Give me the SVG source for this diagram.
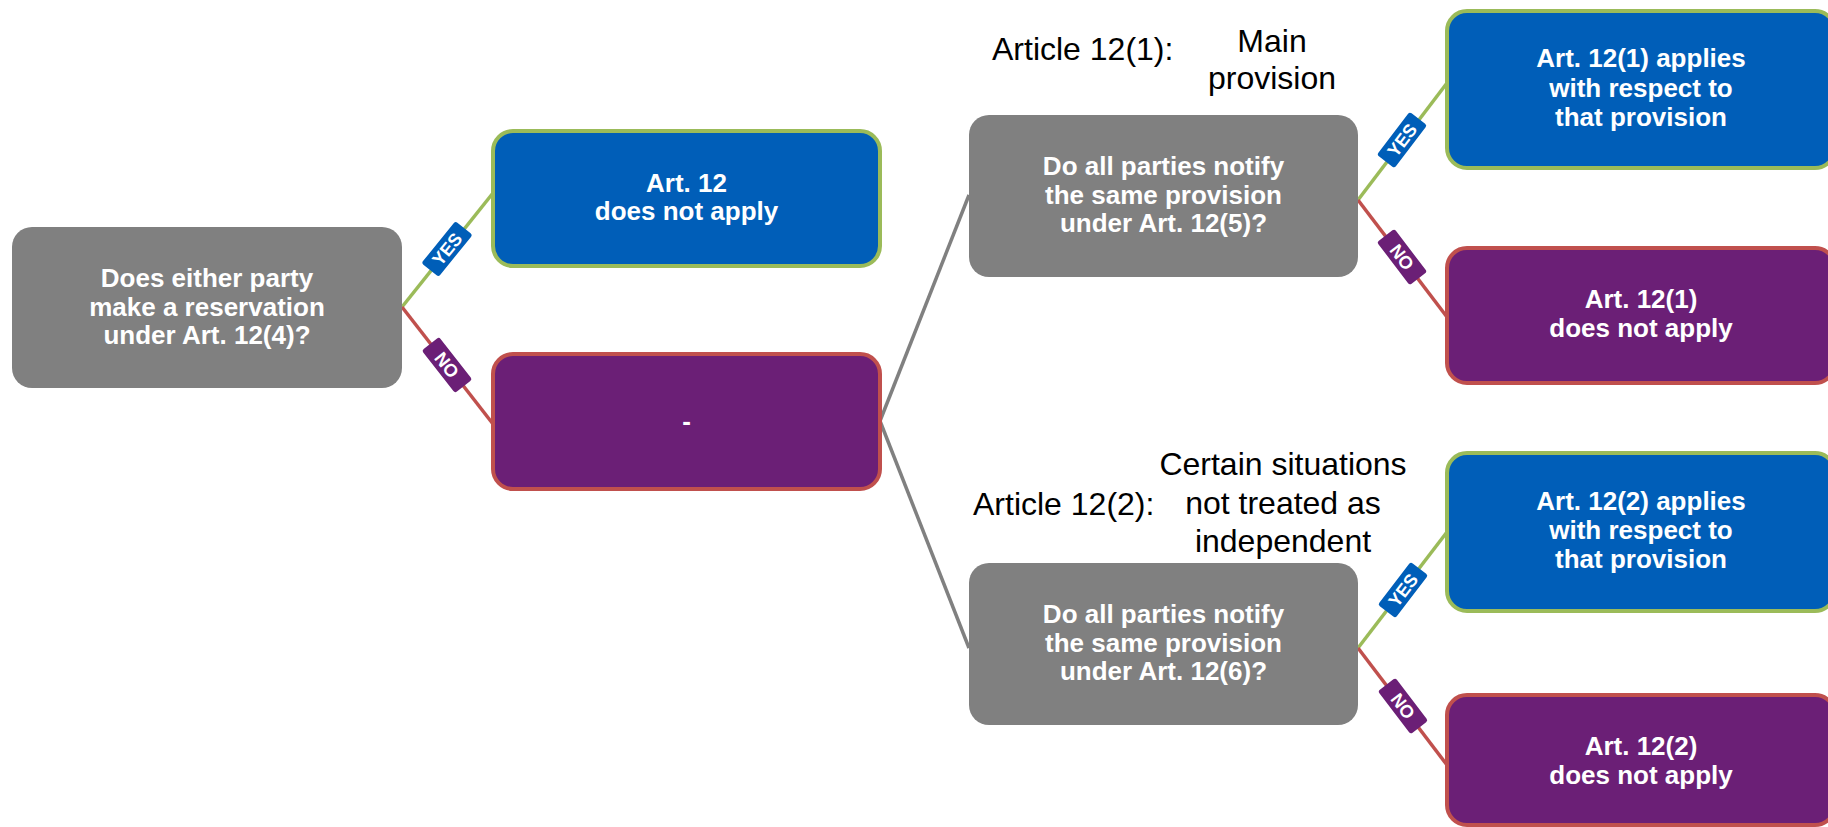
<svg xmlns="http://www.w3.org/2000/svg" width="1828" height="827" viewBox="0 0 1828 827">
<style>
.q{fill:#808080}
.yes{fill:#005EB8;stroke:#9BBB59;stroke-width:4}
.no{fill:#6B1F76;stroke:#C0504D;stroke-width:4}
.t{font-family:"Liberation Sans",Arial,sans-serif;font-weight:bold;font-size:26px;fill:#fff;text-anchor:middle}
.n{font-family:"Liberation Sans",Arial,sans-serif;font-size:32px;fill:#000}
.cy{stroke:#9BBB59;stroke-width:3.5;fill:none}
.cn{stroke:#C0504D;stroke-width:3.5;fill:none}
.cg{stroke:#808080;stroke-width:3.5;fill:none}
.by{fill:#005EB8}
.bn{fill:#6B1F76}
.bt{font-family:"Liberation Sans",Arial,sans-serif;font-weight:bold;font-size:18px;fill:#fff;text-anchor:middle}
</style>
<rect width="1828" height="827" fill="#fff"/>
<g id="connectors">
<line class="cy" x1="402" y1="307" x2="493" y2="193"/>
<line class="cn" x1="402" y1="307" x2="493" y2="424"/>
<line class="cg" x1="880" y1="421" x2="969" y2="195"/>
<line class="cg" x1="880" y1="421" x2="969" y2="648"/>
<line class="cy" x1="1358" y1="200" x2="1447" y2="83"/>
<line class="cn" x1="1358" y1="200" x2="1447" y2="317"/>
<line class="cy" x1="1358" y1="648" x2="1447" y2="532"/>
<line class="cn" x1="1358" y1="648" x2="1447" y2="765"/>
<g transform="translate(447,249) rotate(-51)"><rect class="by" x="-27" y="-11" width="54" height="22" rx="2.5"/><text class="bt" y="6.5">YES</text></g>
<g transform="translate(447,365) rotate(52)"><rect class="bn" x="-27" y="-11" width="54" height="22" rx="2.5"/><text class="bt" y="6.5">NO</text></g>
<g transform="translate(1402,140) rotate(-52.7)"><rect class="by" x="-27" y="-11" width="54" height="22" rx="2.5"/><text class="bt" y="6.5">YES</text></g>
<g transform="translate(1402,257) rotate(52.7)"><rect class="bn" x="-27" y="-11" width="54" height="22" rx="2.5"/><text class="bt" y="6.5">NO</text></g>
<g transform="translate(1403,590) rotate(-52.5)"><rect class="by" x="-27" y="-11" width="54" height="22" rx="2.5"/><text class="bt" y="6.5">YES</text></g>
<g transform="translate(1403,706) rotate(52.7)"><rect class="bn" x="-27" y="-11" width="54" height="22" rx="2.5"/><text class="bt" y="6.5">NO</text></g>
</g>
<g id="q1">
<rect class="q" x="12" y="227" width="390" height="161" rx="20"/>
<text class="t"><tspan x="207" y="287">Does either party</tspan><tspan x="207" y="315.5">make a reservation</tspan><tspan x="207" y="344">under Art. 12(4)?</tspan></text>
</g>
<g id="r1">
<rect class="yes" x="493" y="131" width="387" height="135" rx="20"/>
<text class="t"><tspan x="686.5" y="192">Art. 12</tspan><tspan x="686.5" y="220">does not apply</tspan></text>
</g>
<g id="r2">
<rect class="no" x="493" y="354" width="387" height="135" rx="20"/>
<text class="t" x="686.5" y="430">-</text>
</g>
<g id="label1">
<text class="n" x="992" y="60">Article 12(1):</text>
<text class="n" text-anchor="middle"><tspan x="1272" y="52">Main</tspan><tspan x="1272" y="89">provision</tspan></text>
</g>
<g id="q2">
<rect class="q" x="969" y="115" width="389" height="162" rx="20"/>
<text class="t"><tspan x="1163.5" y="175">Do all parties notify</tspan><tspan x="1163.5" y="203.5">the same provision</tspan><tspan x="1163.5" y="232">under Art. 12(5)?</tspan></text>
</g>
<g id="label2">
<text class="n" x="973" y="515">Article 12(2):</text>
<text class="n" text-anchor="middle"><tspan x="1283" y="475">Certain situations</tspan><tspan x="1283" y="513.5">not treated as</tspan><tspan x="1283" y="552">independent</tspan></text>
</g>
<g id="q3">
<rect class="q" x="969" y="563" width="389" height="162" rx="20"/>
<text class="t"><tspan x="1163.5" y="623">Do all parties notify</tspan><tspan x="1163.5" y="651.5">the same provision</tspan><tspan x="1163.5" y="680">under Art. 12(6)?</tspan></text>
</g>
<g id="r3">
<rect class="yes" x="1447" y="11" width="388" height="157" rx="20"/>
<text class="t"><tspan x="1641" y="67">Art. 12(1) applies</tspan><tspan x="1641" y="96.5">with respect to</tspan><tspan x="1641" y="126">that provision</tspan></text>
</g>
<g id="r4">
<rect class="no" x="1447" y="248" width="388" height="135" rx="20"/>
<text class="t"><tspan x="1641" y="308">Art. 12(1)</tspan><tspan x="1641" y="337">does not apply</tspan></text>
</g>
<g id="r5">
<rect class="yes" x="1447" y="453" width="388" height="158" rx="20"/>
<text class="t"><tspan x="1641" y="510">Art. 12(2) applies</tspan><tspan x="1641" y="539">with respect to</tspan><tspan x="1641" y="568">that provision</tspan></text>
</g>
<g id="r6">
<rect class="no" x="1447" y="695" width="388" height="130" rx="20"/>
<text class="t"><tspan x="1641" y="755">Art. 12(2)</tspan><tspan x="1641" y="784">does not apply</tspan></text>
</g>
</svg>
